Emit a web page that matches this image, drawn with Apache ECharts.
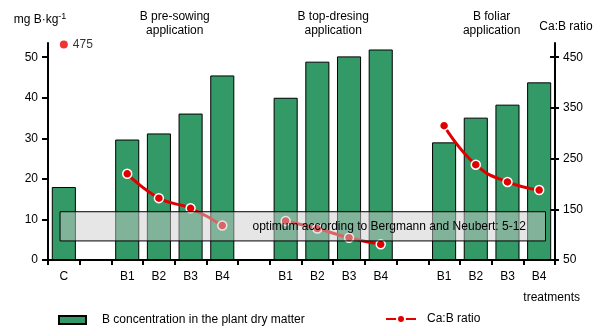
<!DOCTYPE html>
<html>
<head>
<meta charset="utf-8">
<script src="https://cdn.jsdelivr.net/npm/echarts@6/dist/echarts.min.js"></script>
<style>
html,body{margin:0;padding:0;background:#fff;}
#chart{width:601px;height:335px;}
</style>
</head>
<body>
<div id="chart"></div>
<script>
// ---- data ----
var categories = ['C','','B1','B2','B3','B4','','B1','B2','B3','B4','','B1','B2','B3','B4'];
var bConcentration = [18.0, null, 29.7, 31.2, 36.1, 45.5, null, 40.0, 48.9, 50.2, 51.9, null, 29.0, 35.1, 38.3, 43.8];
var caBRatio = [null, null, 220, 172, 152, 118, null, 127, 112, 94, 81, null, 315, 238, 204, 188];
var caBControl = [475, null, null, null, null, null, null, null, null, null, null, null, null, null, null, null];
var leftTicks = [0, 10, 20, 30, 40, 50];
var rightTicks = [50, 150, 250, 350, 450];
var groupTitles = ['B pre-sowing\napplication', 'B top-dresing\napplication', 'B foliar\napplication'];
var optimumBand = [4.7, 11.9];
var optimumText = 'optimum according to Bergmann and Neubert: 5-12';

var FONT = '"Liberation Sans", Arial, sans-serif';

var chart = echarts.init(document.getElementById('chart'), null, {renderer: 'canvas'});

var gridLeft = 48, gridRight = 46, gridTop = 43, gridBottom = 75;
var plotW = 601 - gridLeft - gridRight;
var slotW = plotW / categories.length;
function groupCenter(i0, i1) { return gridLeft + slotW * ((i0 + i1) / 2 + 0.5); }
var groupCenters = [groupCenter(2,5), groupCenter(7,10), groupCenter(12,15)];

var graphics = groupTitles.map(function (t, i) {
  return {
    type: 'text', x: groupCenters[i], y: 10,
    style: {text: t, fill: '#000', font: '12px ' + FONT, align: 'center', verticalAlign: 'top', lineHeight: 14}
  };
});
graphics.push({
  type: 'text', x: 580, y: 292,
  style: {text: 'treatments', fill: '#000', font: '12px ' + FONT, align: 'right', verticalAlign: 'top'}
});

var option = {
  animation: false,
  backgroundColor: '#fff',
  textStyle: {fontFamily: FONT, fontSize: 12, color: '#000'},
  grid: {left: gridLeft, right: gridRight, top: gridTop, bottom: gridBottom},
  legend: [{
    data: [{name: 'B concentration in the plant dry matter', icon: 'rect'}],
    left: 58, top: 314, padding: 0, itemWidth: 27, itemHeight: 8,
    textStyle: {fontFamily: FONT, fontSize: 12, color: '#000', padding: [0, 0, 0, 11]}
  }, {
    data: ['Ca:B ratio'],
    left: 385, top: 313, padding: 0, itemWidth: 30, itemHeight: 10,
    textStyle: {fontFamily: FONT, fontSize: 12, color: '#000', padding: [0, 0, 0, 6]}
  }],
  xAxis: [{
    type: 'category', data: categories, boundaryGap: true,
    axisLine: {lineStyle: {color: '#000', width: 2}},
    axisTick: {show: true, length: 5, lineStyle: {color: '#000', width: 2}, interval: 0},
    axisLabel: {interval: 0, margin: 11, color: '#000', fontFamily: FONT, fontSize: 12},
    splitLine: {show: false}
  }, {
    type: 'value', min: 0, max: categories.length, show: false
  }],
  yAxis: [{
    type: 'value', min: 0, max: 53.5, position: 'left',
    name: 'mg B·kg{sup|-1}', nameLocation: 'end', nameGap: 16,
    nameTextStyle: {fontFamily: FONT, fontSize: 12, color: '#000', align: 'center', padding: [0, 16, 0, 0],
      rich: {sup: {fontSize: 9, verticalAlign: 'top', padding: [0, 0, 6, 0], fontFamily: FONT, color: '#000'}}},
    axisLine: {show: true, lineStyle: {color: '#000', width: 2}},
    axisTick: {show: true, length: 6, lineStyle: {color: '#000', width: 2}, customValues: leftTicks},
    axisLabel: {margin: 10, color: '#000', fontFamily: FONT, fontSize: 12, customValues: leftTicks},
    splitLine: {show: false}
  }, {
    type: 'value', min: 50, max: 478, position: 'right',
    name: 'Ca:B ratio', nameLocation: 'end', nameGap: 10,
    nameTextStyle: {fontFamily: FONT, fontSize: 12, color: '#000', align: 'center', padding: [0, 0, 0, 22]},
    axisLine: {show: true, lineStyle: {color: '#000', width: 2}},
    axisTick: {show: true, length: 4, lineStyle: {color: '#000', width: 2}, customValues: rightTicks},
    axisLabel: {margin: 8, color: '#000', fontFamily: FONT, fontSize: 12, customValues: rightTicks},
    splitLine: {show: false}
  }, {
    type: 'value', min: 50, max: 478, position: 'right',
    axisLine: {show: false},
    axisTick: {show: true, inside: true, length: 5, lineStyle: {color: '#000', width: 2}, customValues: rightTicks},
    axisLabel: {show: false},
    splitLine: {show: false}
  }],
  series: [{
    name: 'B concentration in the plant dry matter',
    type: 'bar', xAxisIndex: 0, yAxisIndex: 0,
    data: bConcentration,
    barCategoryGap: '24%',
    itemStyle: {color: '#339966', borderColor: '#000', borderWidth: 1},
    z: 2
  }, {
    name: 'Ca:B ratio',
    type: 'line', xAxisIndex: 0, yAxisIndex: 1,
    data: caBRatio, smooth: true, connectNulls: false,
    symbol: 'circle', symbolSize: 9,
    lineStyle: {color: '#e00000', width: 3},
    itemStyle: {color: '#e00000', borderColor: '#fff', borderWidth: 1.5},
    z: 3
  }, {
    name: '475',
    type: 'scatter', xAxisIndex: 0, yAxisIndex: 1,
    data: caBControl, symbol: 'circle', symbolSize: 8,
    itemStyle: {color: '#ee0000'},
    label: {show: true, position: 'right', distance: 5, formatter: '{c}', color: '#000', fontFamily: FONT, fontSize: 12},
    z: 3
  }, {
    name: 'optimum',
    type: 'line', xAxisIndex: 1, yAxisIndex: 0, data: [],
    z: 10,
    markArea: {
      silent: true,
      z: 10,
      itemStyle: {color: 'rgba(205,205,205,0.5)', opacity: 1, borderColor: '#000', borderWidth: 1},
      label: {show: true, position: 'insideRight', distance: 20, formatter: optimumText, color: '#000', fontFamily: FONT, fontSize: 12},
      data: [[{coord: [0.38, optimumBand[1]]}, {coord: [15.7, optimumBand[0]]}]]
    }
  }],
  graphic: graphics
};
chart.setOption(option);
</script>
</body>
</html>
